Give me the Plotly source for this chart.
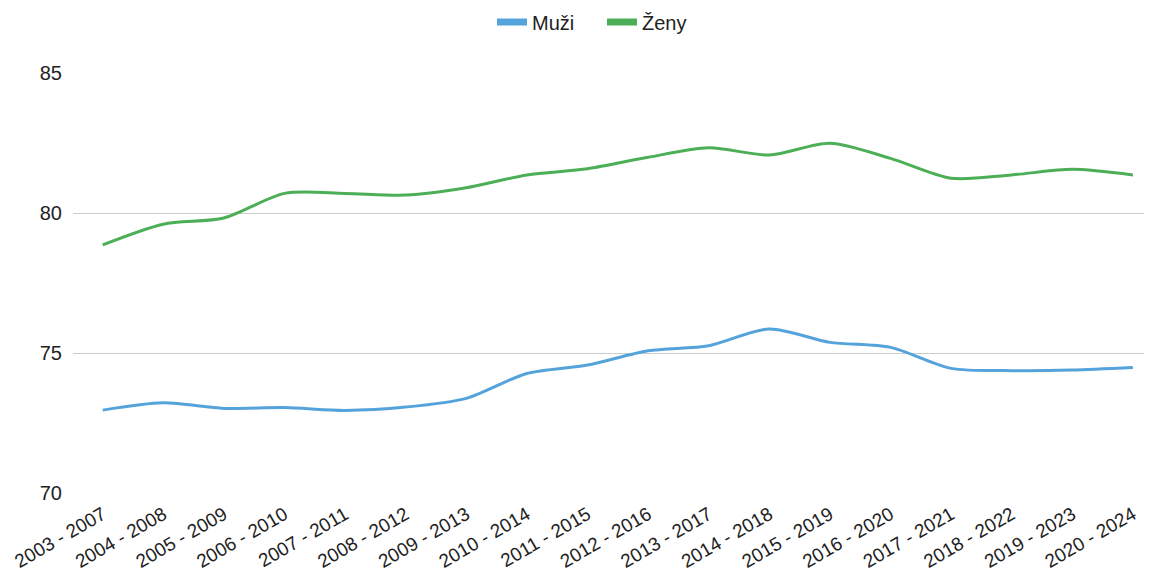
import plotly.graph_objects as go

categories = ["2003 - 2007", "2004 - 2008", "2005 - 2009", "2006 - 2010", "2007 - 2011",
              "2008 - 2012", "2009 - 2013", "2010 - 2014", "2011 - 2015", "2012 - 2016",
              "2013 - 2017", "2014 - 2018", "2015 - 2019", "2016 - 2020", "2017 - 2021",
              "2018 - 2022", "2019 - 2023", "2020 - 2024"]

muzi = [72.96, 73.22, 73.02, 73.05, 72.95, 73.07, 73.38, 74.27, 74.57, 75.08,
        75.26, 75.86, 75.38, 75.2, 74.45, 74.37, 74.39, 74.48]

zeny = [78.86, 79.6, 79.82, 80.7, 80.7, 80.64, 80.9, 81.36, 81.58, 81.99,
        82.33, 82.07, 82.49, 81.95, 81.24, 81.36, 81.56, 81.36]

series = [("Muži", muzi, "#55a3db"), ("Ženy", zeny, "#4caf57")]

fig = go.Figure()
for name, vals, col in series:
    fig.add_trace(go.Scatter(x=categories, y=vals, name=name, mode="lines", showlegend=False,
                             line=dict(color=col, width=3, shape="spline", smoothing=0.8)))
# legend entries with thick short swatches
for name, vals, col in series:
    fig.add_trace(go.Scatter(x=[None], y=[None], name=name, mode="lines", showlegend=True,
                             line=dict(color=col, width=7)))

fig.update_layout(
    width=1152, height=582,
    margin=dict(l=65, r=15, t=65, b=97, autoexpand=False),
    paper_bgcolor="white", plot_bgcolor="white",
    font=dict(family="'Liberation Sans', Arial, sans-serif", size=18, color="#222222"),
    legend=dict(orientation="h", x=0.5 - 7 / 1072, xanchor="center", y=1 - 14 / 582,
                yanchor="middle", yref="container", font=dict(size=20), itemwidth=30,
                entrywidth=65, entrywidthmode="pixels"),
    showlegend=True,
)
fig.update_xaxes(type="category", range=[-0.49, 17.2], tickangle=-30, showgrid=False,
                 showline=False, ticks="", tickfont=dict(size=19), automargin=False,
                 ticklabelstandoff=6)
fig.update_yaxes(range=[70, 85], tickvals=[70, 75, 80, 85], showgrid=True,
                 gridcolor="#cccccc", gridwidth=1, zeroline=False, showline=False,
                 ticks="", tickfont=dict(size=20), ticklabelstandoff=10, automargin=False)

fig.write_html("out.html")
